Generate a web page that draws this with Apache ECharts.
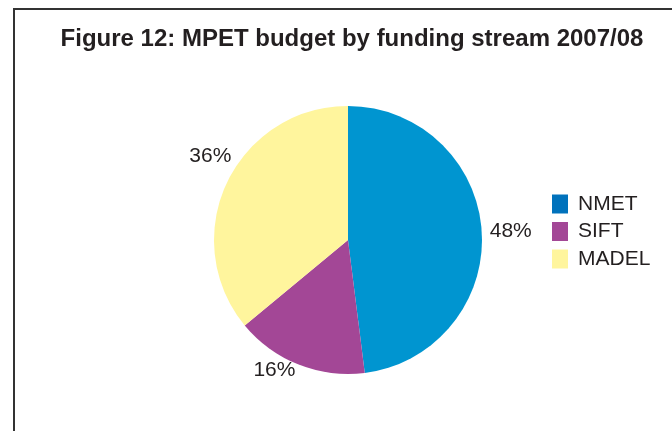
<!DOCTYPE html>
<html>
<head>
<meta charset="utf-8">
<script src="https://cdn.jsdelivr.net/npm/echarts@6/dist/echarts.min.js"></script>
<style>
  html, body { margin: 0; padding: 0; background: #ffffff; }
  #chart { width: 672px; height: 431px; }
</style>
</head>
<body>
<div id="chart"></div>
<script>
// Funding streams and their share of the 2007/08 budget (%)
const streams = ['NMET', 'SIFT', 'MADEL'];
const shares = [48, 16, 36];
const sliceColors = ['#0095d0', '#a34796', '#fff59d'];
const legendColors = ['#0072bc', '#a34796', '#fff59d'];

// small per-slice nudges for the outside percentage labels
const labelShift = [[-3, 0], [4, 0], [15, -24]];

const FONT = 'Liberation Sans, Arial, sans-serif';
const chart = echarts.init(document.getElementById('chart'), null, { renderer: 'canvas' });

chart.setOption({
  animation: false,
  backgroundColor: '#ffffff',
  title: {
    text: 'Figure 12: MPET budget by funding stream 2007/08',
    left: 347,
    textAlign: 'center',
    top: 22,
    textStyle: {
      fontFamily: FONT,
      fontWeight: 'bold',
      fontSize: 24,
      color: '#231f20'
    }
  },
  legend: {
    orient: 'vertical',
    left: 552,
    top: 193.5,
    padding: 0,
    itemWidth: 16,
    itemHeight: 19,
    itemGap: 6.5,
    icon: 'rect',
    data: streams.map((name, i) => ({ name, itemStyle: { color: legendColors[i] } })),
    textStyle: {
      fontFamily: FONT,
      fontSize: 21,
      lineHeight: 19,
      color: '#231f20',
      padding: [0, 0, 0, 5]
    }
  },
  graphic: [{
    type: 'polyline',
    shape: { points: [[14, 431], [14, 9], [672, 9]] },
    style: { stroke: '#333333', lineWidth: 2, fill: null }
  }],
  series: [{
    type: 'pie',
    center: [348, 240],
    radius: 134,
    startAngle: 90,
    clockwise: true,
    silent: true,
    label: {
      show: true,
      position: 'outside',
      formatter: p => p.value + '%',
      fontFamily: FONT,
      fontSize: 21,
      color: '#231f20'
    },
    labelLine: { show: false, length: 6, length2: 0 },
    labelLayout: p => ({ dx: labelShift[p.dataIndex][0], dy: labelShift[p.dataIndex][1] }),
    itemStyle: { borderWidth: 0 },
    data: streams.map((name, i) => ({
      name,
      value: shares[i],
      itemStyle: { color: sliceColors[i] }
    }))
  }]
});
</script>
</body>
</html>
